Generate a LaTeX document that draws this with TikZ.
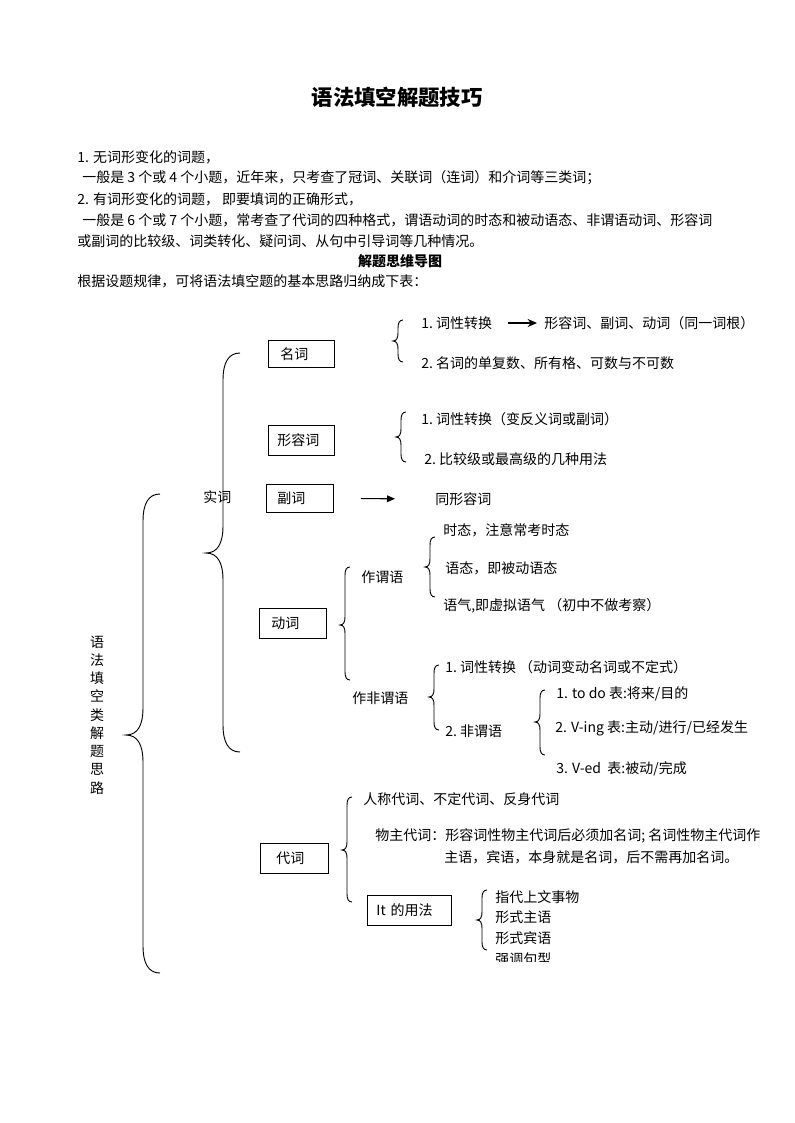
\documentclass[tikz,border=0pt]{standalone}
\usepackage{fontspec}
\setmainfont{Noto Sans CJK SC}
\usetikzlibrary{arrows.meta}
\newcommand{\mybrace}[5]{% x, ytop, ybot, ymid, w
  \draw[brc] ({#1+#5},#2) .. controls ({#1+0.3*#5},#2) and (#1,{#2+0.6*#5}) .. (#1,{#2+1.6*#5})
    -- (#1,{#4-1.6*#5}) .. controls (#1,{#4-0.6*#5}) and ({#1-0.3*#5},#4) .. ({#1-#5},#4)
    .. controls ({#1-0.3*#5},#4) and (#1,{#4+0.6*#5}) .. (#1,{#4+1.6*#5})
    -- (#1,{#3-1.6*#5}) .. controls (#1,{#3-0.6*#5}) and ({#1+0.3*#5},#3) .. ({#1+#5},#3);}
\begin{document}
\begin{tikzpicture}[x=0.75pt,y=-0.75pt,
  every node/.style={inner sep=0pt, font=\fontsize{10.5}{12}\selectfont},
  txt/.style={anchor=west},
  wbox/.style={draw, anchor=north west, align=left, inner ysep=0pt, line width=0.7pt},
  brc/.style={line width=0.7pt},
  arr/.style={line width=0.8pt, -{Triangle[length=6pt,width=5pt]}}]
\useasboundingbox[fill=white] (0,0) rectangle (794,1123);

% header text
\node[font=\fontsize{16}{18}\selectfont\bfseries] (title) at (397,97) {语法填空解题技巧};
\node[txt] (l1) at (77,157) {1. 无词形变化的词题，};
\node[txt] (l2) at (82,178) {一般是 3 个或 4 个小题，近年来，只考查了冠词、关联词（连词）和介词等三类词；};
\node[txt] (l3) at (77,199) {2. 有词形变化的词题， 即要填词的正确形式，};
\node[txt] (l4) at (82,220) {一般是 6 个或 7 个小题，常考查了代词的四种格式，谓语动词的时态和被动语态、非谓语动词、形容词};
\node[txt] (l5) at (77,241) {或副词的比较级、词类转化、疑问词、从句中引导词等几种情况。};
\node[font=\fontsize{10.5}{12}\selectfont\bfseries] (sub) at (400,261) {解题思维导图};
\node[txt] (l6) at (77,281) {根据设题规律，可将语法填空题的基本思路归纳成下表：};

% root
\node[align=center, font=\fontsize{10.5}{13.7}\selectfont] (root) at (97,715) {语\\法\\填\\空\\类\\解\\题\\思\\路};
\mybrace{143}{494}{973}{735}{17}
\node[txt] (shici) at (203,497) {实词};
\mybrace{223}{353}{752}{553}{17}

% boxes
\node[wbox, minimum height=20.25pt, inner xsep=9pt, text width=31.5pt] (mingci) at (268,340) {名词};
\node[wbox, minimum height=22.5pt, inner xsep=6.75pt, text width=36pt] (xingrongci) at (268,425) {形容词};
\node[wbox, minimum height=21pt, inner xsep=8.25pt, text width=33.75pt] (fuci) at (266,484) {副词};
\node[wbox, minimum height=22.5pt, inner xsep=9pt, text width=32.25pt] (dongci) at (259,608) {动词};
\node[wbox, minimum height=22.5pt, inner xsep=12pt, text width=27pt] (daici) at (260,843) {代词};
\node[wbox, minimum height=22.5pt, inner xsep=6.75pt, text width=49.5pt] (it) at (367,895) {It 的用法};

% 名词
\mybrace{398}{320}{362}{341}{5}
\node[txt] (m1) at (421,323) {1.\ 词性转换};
\node[txt] (m1b) at (544,323) {形容词、副词、动词（同一词根）};
\draw[line width=1.5pt, -{Stealth[length=7pt,width=6pt]}] (m1.east) ++(16,0) coordinate (a1s) -- (m1b.west -| 537,0) coordinate (a1e);
\node[txt] (m2) at (421,363) {2.\ 名词的单复数、所有格、可数与不可数};

% 形容词
\mybrace{401}{412}{462}{437}{5}
\node[txt] (x1) at (421,419) {1.\ 词性转换（变反义词或副词）};
\node[txt] (x2) at (424,459) {2.\ 比较级或最高级的几种用法};

% 副词
\node[txt] (f1) at (435,499) {同形容词};
\draw[arr, shorten <=27pt*0.75, shorten >=40pt*0.75] (fuci.east) -- (f1.west);

% 动词
\mybrace{345}{567}{680}{625}{5}
\node[txt] (zwy) at (361,577) {作谓语};
\mybrace{430}{537}{597}{567}{5}
\node[txt] (w1) at (443,530) {时态，注意常考时态};
\node[txt] (w2) at (445,568) {语态，即被动语态};
\node[txt] (w3) at (443,606) {语气,即虚拟语气 （初中不做考察）};
\node[txt] (zfwy) at (352,698) {作非谓语};
\mybrace{434}{665}{730}{697}{5}
\node[txt] (n1) at (445,667) {1.\ 词性转换 （动词变动名词或不定式）};
\node[txt] (n2) at (445,731) {2.\ 非谓语};
\mybrace{540}{690}{755}{722}{5}
\node[txt] (v1) at (556,694) {1. to do 表:将来/目的};
\node[txt] (v2) at (555,728) {2. V-ing 表:主动/进行/已经发生};
\node[txt] (v3) at (556,769) {3. V-ed \ 表:被动/完成};

% 代词
\mybrace{347}{797}{902}{850}{5}
\node[txt] (d1) at (363,799) {人称代词、不定代词、反身代词};
\node[txt] (d2) at (375,836) {物主代词：形容词性物主代词后必须加名词; 名词性物主代词作};
\node[txt] (d2b) at (444,857) {主语，宾语，本身就是名词，后不需再加名词。};
\mybrace{482}{890}{950}{920}{5}
\node[txt] (i1) at (495,897) {指代上文事物};
\node[txt] (i2) at (495,917) {形式主语};
\node[txt] (i3) at (495,938) {形式宾语};
\begin{scope}
\clip (480,948) rectangle (620,961);
\node[txt] (i4) at (495,959) {强调句型};
\end{scope}
\end{tikzpicture}
\end{document}
